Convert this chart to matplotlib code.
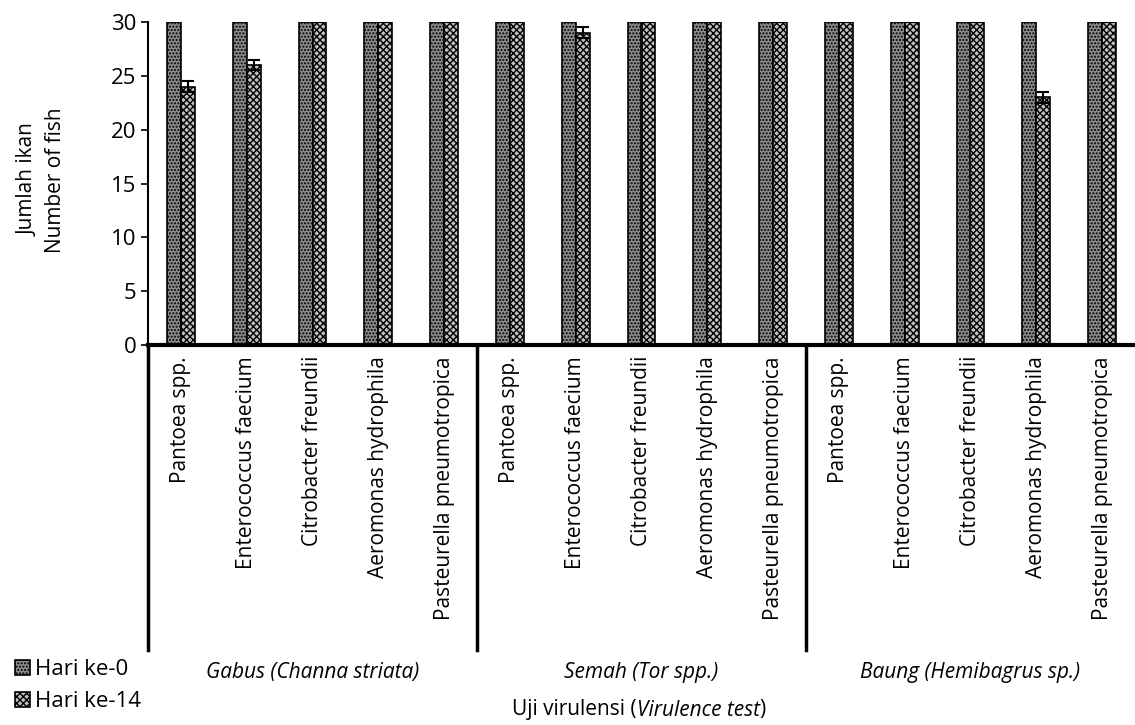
import numpy as np
import matplotlib
matplotlib.use("Agg")
import matplotlib.pyplot as plt
from matplotlib.transforms import blended_transform_factory

plt.rcParams['font.family'] = ['Open Sans', 'DejaVu Sans']
plt.rcParams['hatch.linewidth'] = 1.0

bacteria = ["Pantoea spp.", "Enterococcus faecium", "Citrobacter freundii",
            "Aeromonas hydrophila", "Pasteurella pneumotropica"]
groups = ["Gabus (Channa striata)", "Semah (Tor spp.)", "Baung (Hemibagrus sp.)"]
day0 = [30, 30, 30, 30, 30, 30, 30, 30, 30, 30, 30, 30, 30, 30, 30]
day14 = [24, 26, 30, 30, 30, 30, 29, 30, 30, 30, 30, 30, 30, 23, 30]
err14 = [0.5, 0.5, 0, 0, 0, 0, 0.5, 0, 0, 0, 0, 0, 0, 0.5, 0]

labels = bacteria * len(groups)
x = np.arange(len(labels))
w = 0.21

fig = plt.figure(figsize=(11.35, 7.25), dpi=100)
ax = fig.add_axes([148/1135, 1-345/725, 1-148/1135, 323/725])

ax.bar(x - w/2, day0, w, color="#8c8c8c", edgecolor="black", hatch=".....",
       linewidth=1.2, label="Hari ke-0")
ax.bar(x + w/2, day14, w, color="#c0c0c0", edgecolor="black", hatch="xxxxx",
       linewidth=1.2, label="Hari ke-14")
ax.errorbar(x + w/2, day14, yerr=err14, fmt="none", ecolor="black",
            elinewidth=1.5, capsize=4, capthick=1.5)

ax.set_xlim(-0.5, len(labels) - 0.5)
ax.set_ylim(0, 30)
ax.set_yticks(range(0, 31, 5))
ax.tick_params(axis="y", labelsize=16, length=5, width=1.2)
ax.set_xticks(x)
ax.set_xticklabels(labels, rotation=90, fontsize=15, va="top")
ax.tick_params(axis="x", length=0, pad=8)
ax.spines["top"].set_visible(False)
ax.spines["right"].set_visible(False)
ax.spines["left"].set_linewidth(1.5)
ax.spines["bottom"].set_linewidth(3)

trans = blended_transform_factory(ax.transData, ax.transAxes)
for b in [-0.5, 4.5, 9.5]:
    ax.plot([b, b], [0, -305/323], color="black", lw=2.5, transform=trans, clip_on=False)

for i, g in enumerate(groups):
    ax.text(i*5 + 2, -327/323, g, transform=trans, ha="center", va="center",
            fontsize=15, style="italic")

# x label with italic part
t1 = fig.text(512/1135, 1-710/725, "Uji virulensi (", ha="left", va="center", fontsize=15)
t2 = ax.annotate("Virulence test", xy=(1, 0), xycoords=t1, ha="left", va="bottom",
                 fontsize=15, style="italic")
ax.annotate(")", xy=(1, 0), xycoords=t2, ha="left", va="bottom", fontsize=15)

fig.text(42/1135, 1-180/725, "Jumlah ikan\nNumber of fish", rotation=90,
         ha="center", va="center", fontsize=15, linespacing=1.4)

fig.legend(loc="lower left", bbox_to_anchor=(0.005, 0.005), frameon=False,
           fontsize=16, handlelength=0.7, handleheight=0.7, handletextpad=0.2,
           labelspacing=0.5, borderaxespad=0.0)

fig.savefig("out.png", dpi=100)
